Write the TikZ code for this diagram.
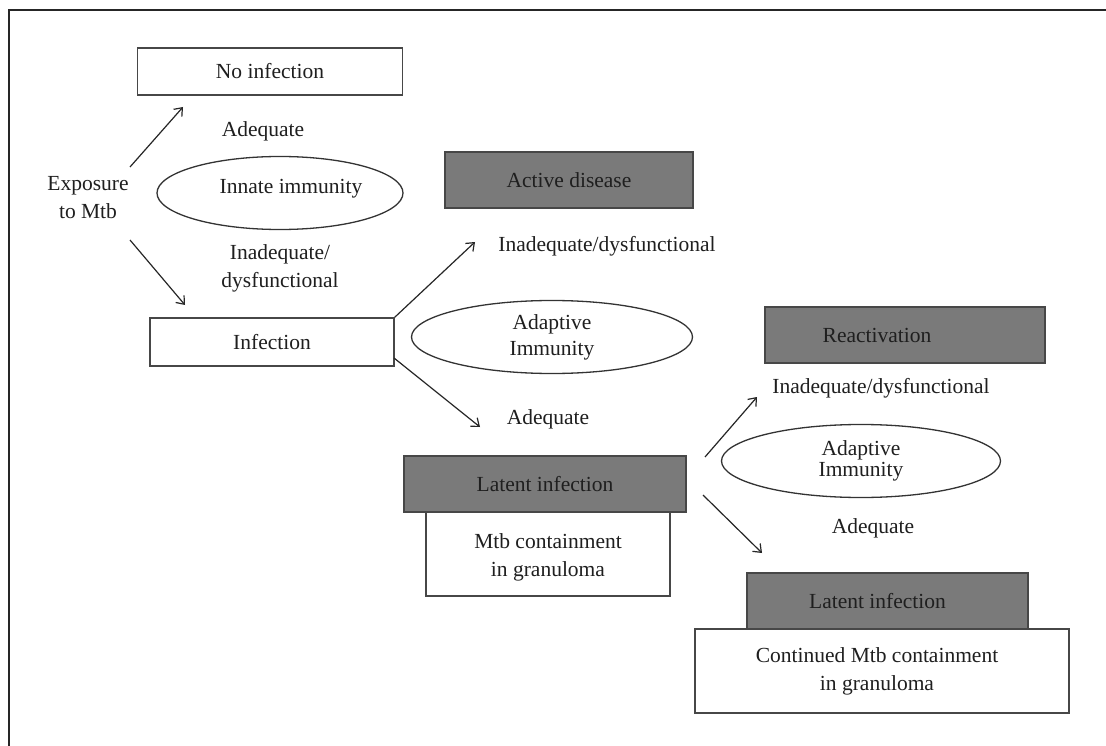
\documentclass[tikz,border=0pt]{standalone}
\usepackage{fontspec}
\setmainfont{Liberation Serif}
\usetikzlibrary{arrows.meta,shapes.geometric}
\begin{document}
\begin{tikzpicture}[x=1pt,y=-1pt,
  txt/.style={font=\fontsize{21.5}{28}\selectfont, text=black!88, inner sep=0pt, align=center},
  wbox/.style={txt, draw=black!72, line width=1.6pt, fill=white, rectangle},
  gbox/.style={txt, draw=black!72, line width=1.6pt, fill=black!52, rectangle},
  ell/.style={txt, draw=black!80, line width=1.3pt, ellipse},
  arr/.style={draw=black!85, line width=1.2pt, -{Straight Barb[length=7pt,width=11pt,line width=1.2pt]}}
]
\useasboundingbox (0,0) rectangle (1106,746);
\fill[white] (0,0) rectangle (1106,746);
% frame
\coordinate (frbl) at (9,760);
\coordinate (frtl) at (9,10);
\coordinate (frtr) at (1120,10);
\draw[line width=2.2pt, black!85] (frbl) -- (frtl) -- (frtr);

% left part
\node[wbox, minimum width=265pt, minimum height=47pt] (noinf) at (270,71.5) {No infection};
\node[txt] (adeq1) at (263,131) {Adequate};
\node[ell, minimum width=246pt, minimum height=73pt,
  label={[txt,xshift=11pt,yshift=4pt]center:Innate immunity}] (innate) at (280,193) {};
\node[txt] (expo) at (88,198) {Exposure\\to Mtb};
\node[txt] (inad1) at (280,268) {Inadequate/\\dysfunctional};
\node[wbox, minimum width=244pt, minimum height=48pt] (inf) at (272,342) {Infection};

\coordinate (a1s) at (130,167);
\coordinate (a1e) at (183,107);
\coordinate (a2s) at (130,240);
\coordinate (a2e) at (185,305);
\draw[arr] (a1s) -- (a1e);
\draw[arr] (a2s) -- (a2e);

% middle part
\node[gbox, minimum width=248pt, minimum height=56pt] (active) at (569,180) {Active disease};
\node[txt] (inad2) at (607,246) {Inadequate/dysfunctional};
\node[ell, minimum width=281pt, minimum height=73pt] (adapt1) at (552,337) {Adaptive\\[-2pt]Immunity};
\node[txt] (adeq2) at (548,419) {Adequate};

\coordinate (a3e) at (475,242);
\coordinate (a4s) at (394,358);
\coordinate (a4e) at (480,427);
\draw[arr] (inf.north east) -- (a3e);
\draw[arr] (a4s) -- (a4e);

\node[wbox, minimum width=244pt, minimum height=84pt] (mtb) at (548,554)
  {\\[-6pt]Mtb containment\\in granuloma};
\node[gbox, minimum width=282pt, minimum height=56pt] (lat1) at (545,484) {Latent infection};

% right part
\node[gbox, minimum width=280pt, minimum height=56pt] (react) at (905,335)
  {Reactivation\hspace*{56pt}};
\node[txt] (inad3) at (881,388) {Inadequate/dysfunctional};
\node[ell, minimum width=279pt, minimum height=73pt] (adapt2) at (861,461) {Adaptive\\[-7pt]Immunity};
\node[txt] (adeq3) at (873,528) {Adequate};

\coordinate (a5s) at (705,457);
\coordinate (a5e) at (757,397);
\coordinate (a6s) at (703,495);
\coordinate (a6e) at (762,553);
\draw[arr] (a5s) -- (a5e);
\draw[arr] (a6s) -- (a6e);

\node[wbox, minimum width=374pt, minimum height=84pt] (cont) at (882,671)
  {Continued Mtb containment\hspace*{10pt}\\in granuloma\hspace*{10pt}};
\node[gbox, minimum width=281pt, minimum height=56pt] (lat2) at (887.5,601)
  {Latent infection\hspace*{20pt}};
\end{tikzpicture}
\end{document}
